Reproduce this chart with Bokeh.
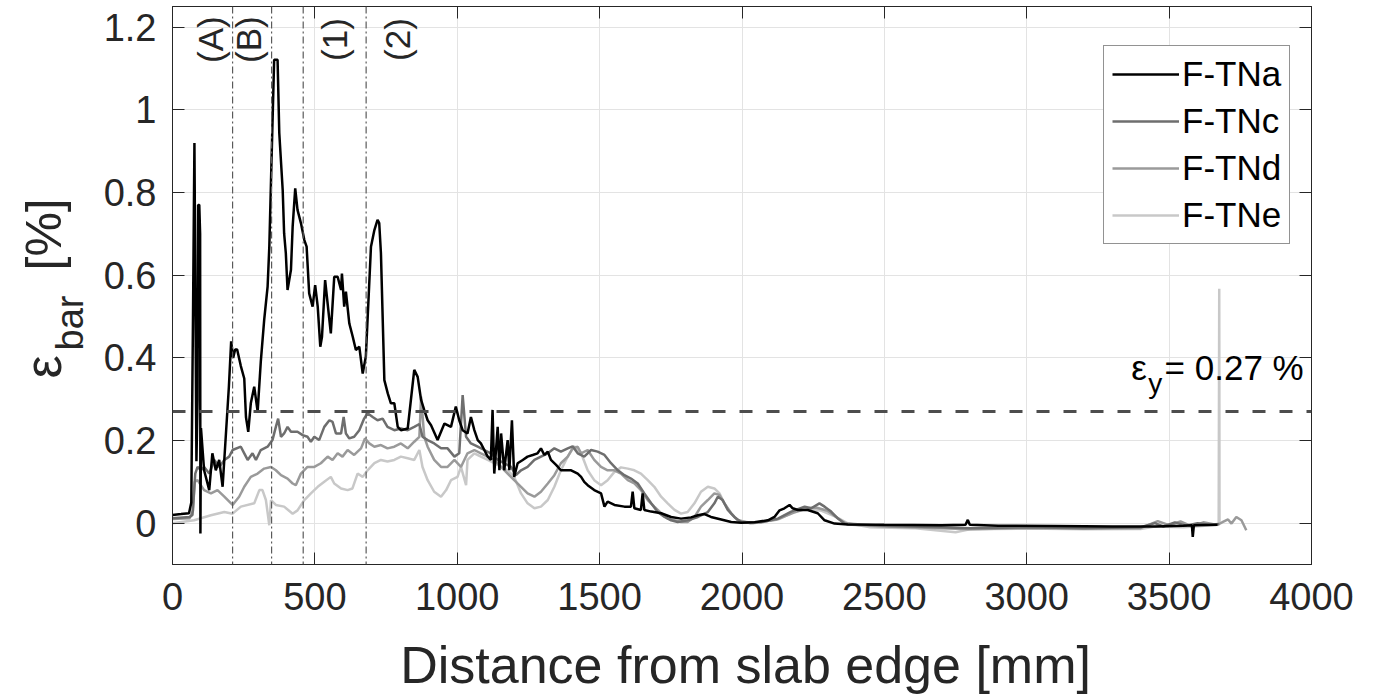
import math
from bokeh.plotting import figure
from bokeh.layouts import row, column
from bokeh.models import (Span, Label, Legend, LegendItem, LinearAxis, FixedTicker,
                          NumeralTickFormatter, CustomJSTickFormatter, Range1d)
from bokeh.embed import file_html
from bokeh.resources import INLINE

# ---------------- data ----------------
x_ticks = [0, 500, 1000, 1500, 2000, 2500, 3000, 3500, 4000]
y_ticks = [0, 0.2, 0.4, 0.6, 0.8, 1.0, 1.2]
series_names = ["F-TNa", "F-TNc", "F-TNd", "F-TNe"]
series_colors = ["#000000", "#6e6e6e", "#9a9a9a", "#c8c8c8"]

eps_y = 0.27
section_lines = [211, 348, 459, 680]
section_labels = ["(A)", "(B)", "(1)", "(2)"]
section_label_x = [135, 268, 568, 790]

ftna = [(0, 0.020), (30, 0.022), (58, 0.024), (66, 0.05), (72, 0.50), (77, 0.92), (80, 0.60),
        (84, 0.15), (88, 0.30), (90, 0.77), (94, 0.77), (97, 0.70), (98, -0.025), (100, 0.23),
        (111, 0.128), (129, 0.080), (140, 0.169), (152, 0.128), (164, 0.153), (176, 0.088),
        (187, 0.209), (198, 0.33), (206, 0.44), (213, 0.40), (220, 0.42), (227, 0.42), (240, 0.38),
        (252, 0.35), (258, 0.257), (266, 0.221), (275, 0.290), (287, 0.330), (299, 0.270),
        (310, 0.390), (322, 0.492), (334, 0.572), (340, 0.669), (346, 0.83), (357, 1.121),
        (369, 1.121), (375, 0.944), (387, 0.806), (392, 0.701), (398, 0.653), (404, 0.564),
        (416, 0.613), (422, 0.718), (431, 0.810), (439, 0.758), (451, 0.726), (463, 0.685),
        (471, 0.669), (480, 0.556), (492, 0.524), (501, 0.576), (510, 0.524), (519, 0.427),
        (525, 0.451), (536, 0.588), (556, 0.459), (568, 0.596), (580, 0.596), (592, 0.564),
        (595, 0.604), (603, 0.524), (609, 0.560), (621, 0.483), (633, 0.451), (644, 0.419),
        (656, 0.427), (668, 0.362), (679, 0.403), (697, 0.669), (709, 0.709), (720, 0.734),
        (726, 0.726), (732, 0.653), (744, 0.346), (756, 0.314), (767, 0.290), (779, 0.290),
        (791, 0.233), (802, 0.225), (826, 0.229), (849, 0.371), (861, 0.354), (873, 0.298),
        (884, 0.274), (896, 0.249), (908, 0.237), (931, 0.201), (955, 0.241), (978, 0.233),
        (995, 0.282), (1007, 0.249), (1019, 0.225), (1036, 0.217), (1048, 0.257), (1060, 0.225),
        (1072, 0.201), (1083, 0.193), (1095, 0.177), (1107, 0.161), (1118, 0.153), (1124, 0.274),
        (1130, 0.120), (1142, 0.233), (1148, 0.128), (1154, 0.217), (1165, 0.128), (1177, 0.201),
        (1183, 0.128), (1192, 0.249), (1200, 0.112), (1212, 0.145), (1230, 0.153), (1247, 0.161),
        (1265, 0.165), (1282, 0.169), (1294, 0.181), (1306, 0.165), (1318, 0.173), (1329, 0.153),
        (1347, 0.141), (1364, 0.128), (1382, 0.128), (1400, 0.128), (1423, 0.120), (1435, 0.112),
        (1446, 0.100), (1458, 0.092), (1481, 0.080), (1505, 0.072), (1517, 0.040), (1528, 0.052),
        (1552, 0.044), (1587, 0.040), (1610, 0.040), (1616, 0.076), (1622, 0.036), (1645, 0.032),
        (1651, 0.072), (1657, 0.032), (1681, 0.028), (1716, 0.024), (1751, 0.015), (1786, 0.011),
        (1821, 0.014), (1845, 0.019), (1868, 0.022), (1891, 0.015), (1927, 0.009), (1962, 0.003),
        (1997, 0.001), (2044, 0.002), (2091, 0.007), (2114, 0.015), (2132, 0.031), (2149, 0.036),
        (2167, 0.044), (2178, 0.036), (2196, 0.032), (2231, 0.032), (2266, 0.024), (2290, 0.007),
        (2325, -0.001), (2372, -0.003), (2500, -0.004), (2700, -0.005), (2785, -0.004),
        (2793, 0.008), (2800, -0.004), (2900, -0.006), (3100, -0.007), (3300, -0.008),
        (3450, -0.008), (3550, -0.006), (3580, -0.005), (3583, -0.033), (3587, -0.005),
        (3670, -0.004)]

ftnc = [(0, 0.012), (60, 0.015), (70, 0.02), (80, 0.12), (88, 0.136), (100, 0.128), (111, 0.136),
        (129, 0.120), (147, 0.153), (164, 0.136), (182, 0.153), (199, 0.161), (211, 0.177),
        (240, 0.185), (252, 0.169), (264, 0.153), (281, 0.169), (293, 0.153), (310, 0.177),
        (334, 0.185), (351, 0.201), (363, 0.233), (371, 0.253), (381, 0.209), (392, 0.217),
        (404, 0.233), (416, 0.221), (439, 0.221), (457, 0.213), (474, 0.209), (486, 0.197),
        (498, 0.209), (515, 0.201), (533, 0.233), (551, 0.249), (562, 0.245), (574, 0.217),
        (592, 0.217), (601, 0.257), (609, 0.217), (621, 0.205), (638, 0.209), (656, 0.225),
        (673, 0.253), (685, 0.266), (703, 0.257), (720, 0.249), (738, 0.253), (755, 0.233),
        (779, 0.225), (802, 0.229), (826, 0.225), (849, 0.233), (867, 0.240), (878, 0.209),
        (896, 0.201), (919, 0.193), (943, 0.181), (966, 0.181), (990, 0.161), (1007, 0.169),
        (1019, 0.310), (1031, 0.209), (1048, 0.193), (1072, 0.185), (1095, 0.177), (1118, 0.169),
        (1142, 0.153), (1165, 0.145), (1189, 0.136), (1206, 0.116), (1224, 0.128), (1247, 0.136),
        (1271, 0.153), (1294, 0.161), (1318, 0.169), (1341, 0.181), (1364, 0.173), (1388, 0.181),
        (1405, 0.186), (1423, 0.169), (1446, 0.161), (1470, 0.177), (1493, 0.173), (1517, 0.165),
        (1540, 0.145), (1564, 0.128), (1587, 0.116), (1610, 0.108), (1634, 0.096), (1657, 0.072),
        (1681, 0.048), (1704, 0.027), (1728, 0.015), (1751, 0.007), (1774, 0.003), (1809, 0.007),
        (1845, 0.015), (1880, 0.027), (1903, 0.048), (1915, 0.064), (1932, 0.056), (1950, 0.032),
        (1973, 0.015), (1997, 0.003), (2067, 0.002), (2126, 0.011), (2173, 0.028), (2220, 0.040),
        (2243, 0.036), (2272, 0.048), (2290, 0.040), (2313, 0.028), (2337, 0.011), (2360, -0.001),
        (2500, -0.006), (2700, -0.010), (2800, -0.012), (3000, -0.010), (3200, -0.012),
        (3400, -0.010), (3450, 0.000), (3480, -0.008), (3520, 0.002), (3560, -0.006),
        (3600, 0.000), (3640, -0.004), (3676, -0.002)]

ftnd = [(0, 0.010), (60, 0.012), (72, 0.03), (78, 0.10), (88, 0.104), (111, 0.080), (135, 0.072),
        (158, 0.080), (182, 0.064), (211, 0.044), (234, 0.064), (252, 0.088), (275, 0.112),
        (299, 0.120), (322, 0.132), (346, 0.136), (363, 0.128), (381, 0.116), (404, 0.108),
        (422, 0.096), (433, 0.092), (451, 0.120), (474, 0.136), (498, 0.136), (521, 0.145),
        (545, 0.161), (562, 0.153), (580, 0.169), (597, 0.161), (615, 0.177), (638, 0.165),
        (662, 0.181), (676, 0.205), (691, 0.193), (709, 0.185), (732, 0.189), (755, 0.181),
        (779, 0.185), (802, 0.193), (826, 0.181), (849, 0.197), (867, 0.209), (873, 0.306),
        (884, 0.209), (896, 0.185), (919, 0.153), (943, 0.136), (966, 0.136), (990, 0.153),
        (1013, 0.136), (1036, 0.169), (1060, 0.177), (1083, 0.169), (1107, 0.161), (1130, 0.153),
        (1154, 0.136), (1177, 0.120), (1200, 0.104), (1224, 0.088), (1247, 0.072), (1271, 0.064),
        (1294, 0.076), (1318, 0.096), (1341, 0.116), (1364, 0.145), (1388, 0.161), (1405, 0.181),
        (1423, 0.185), (1435, 0.169), (1458, 0.177), (1481, 0.153), (1505, 0.136), (1528, 0.128),
        (1552, 0.128), (1575, 0.120), (1599, 0.104), (1622, 0.096), (1645, 0.080), (1669, 0.056),
        (1692, 0.040), (1716, 0.024), (1739, 0.011), (1763, 0.007), (1786, 0.003), (1809, 0.003),
        (1833, 0.015), (1856, 0.040), (1880, 0.056), (1903, 0.072), (1921, 0.068), (1938, 0.048),
        (1962, 0.024), (1985, 0.007), (2030, 0.000), (2120, 0.008), (2180, 0.025), (2230, 0.036),
        (2260, 0.038), (2300, 0.030), (2340, 0.010), (2370, -0.003), (2500, -0.008),
        (2700, -0.012), (2800, -0.015), (3000, -0.012), (3200, -0.013), (3400, -0.012),
        (3460, 0.005), (3500, -0.005), (3540, 0.004), (3580, -0.008), (3620, 0.002),
        (3660, -0.003), (3676, -0.002), (3689, 0.003), (3707, 0.009), (3719, -0.001),
        (3736, 0.015), (3754, 0.007), (3771, -0.017)]

ftne = [(0, 0.000), (76, 0.007), (135, 0.019), (182, 0.027), (211, 0.023), (240, 0.040),
        (287, 0.048), (305, 0.080), (316, 0.080), (328, 0.056), (340, -0.005), (346, 0.056),
        (363, 0.044), (392, 0.040), (422, 0.023), (439, 0.031), (463, 0.056), (486, 0.072),
        (510, 0.088), (533, 0.100), (556, 0.112), (568, 0.096), (592, 0.084), (615, 0.080),
        (632, 0.084), (650, 0.120), (668, 0.112), (685, 0.128), (709, 0.145), (732, 0.153),
        (755, 0.149), (779, 0.153), (802, 0.161), (826, 0.157), (849, 0.153), (867, 0.177),
        (878, 0.136), (896, 0.104), (919, 0.076), (943, 0.064), (961, 0.080), (978, 0.104),
        (1001, 0.112), (1013, 0.136), (1031, 0.092), (1036, 0.153), (1060, 0.169), (1083, 0.161),
        (1107, 0.153), (1130, 0.145), (1154, 0.136), (1177, 0.128), (1200, 0.112), (1224, 0.072),
        (1247, 0.048), (1271, 0.036), (1294, 0.040), (1318, 0.056), (1341, 0.088), (1364, 0.128),
        (1388, 0.161), (1411, 0.186), (1435, 0.169), (1458, 0.128), (1481, 0.104), (1505, 0.092),
        (1528, 0.104), (1552, 0.124), (1575, 0.135), (1599, 0.132), (1622, 0.128), (1645, 0.120),
        (1669, 0.104), (1692, 0.088), (1716, 0.064), (1739, 0.048), (1763, 0.032), (1786, 0.023),
        (1809, 0.027), (1833, 0.048), (1856, 0.076), (1880, 0.088), (1903, 0.084), (1921, 0.072),
        (1938, 0.048), (1962, 0.023), (1985, 0.007), (2040, 0.000), (2130, 0.010), (2190, 0.030),
        (2230, 0.035), (2280, 0.030), (2330, 0.015), (2370, 0.000), (2450, -0.010),
        (2600, -0.012), (2750, -0.022), (2800, -0.015), (3000, -0.013), (3200, -0.015),
        (3400, -0.014), (3450, -0.008), (3550, -0.010), (3650, -0.005), (3674, -0.004),
        (3676, 0.567), (3677, 0.000)]

series_data = [ftna, ftnc, ftnd, ftne]

# ---------------- styling constants ----------------
FONT = "Liberation Sans"
TXT = "#262626"


def text_panel(w, h):
    """A blank figure used only to hold axis-title text outside the main frame."""
    f = figure(width=w, height=h, x_range=Range1d(0, w), y_range=Range1d(0, h),
               output_backend="svg", toolbar_location=None,
               x_axis_location=None, y_axis_location=None, min_border=0)
    f.xgrid.visible = False
    f.ygrid.visible = False
    f.outline_line_color = None
    f.background_fill_color = "white"
    f.border_fill_color = "white"
    return f


# ---------------- main figure ----------------
p = figure(width=1275, height=628, x_range=Range1d(0, 4000), y_range=Range1d(-0.1, 1.25),
           output_backend="svg", toolbar_location=None,
           min_border_left=72, min_border_right=64, min_border_top=6, min_border_bottom=64)
p.background_fill_color = "white"
p.border_fill_color = "white"
p.outline_line_color = TXT
p.outline_line_width = 1

x_bottom = p.below[0]
y_left = p.left[0]
x_top = LinearAxis()
y_right = LinearAxis()
p.add_layout(x_top, "above")
p.add_layout(y_right, "right")

for ax in (x_bottom, x_top):
    ax.ticker = FixedTicker(ticks=x_ticks)
for ax in (y_left, y_right):
    ax.ticker = FixedTicker(ticks=y_ticks)
y_left.formatter = NumeralTickFormatter(format="0.[0]")

for ax in (x_bottom, x_top, y_left, y_right):
    ax.major_tick_in = 12
    ax.major_tick_out = 0
    ax.minor_tick_line_color = None
    ax.axis_line_color = TXT
    ax.major_tick_line_color = TXT
    ax.major_label_text_font = FONT
    ax.major_label_text_color = TXT
    ax.major_label_text_font_size = "38px"

x_bottom.major_label_standoff = 18
y_left.major_label_standoff = 16
for ax in (x_top, y_right):
    ax.formatter = CustomJSTickFormatter(code="return ''")
    ax.major_label_text_font_size = "1px"
    ax.major_label_standoff = 0

p.xgrid.grid_line_color = "#e3e3e3"
p.ygrid.grid_line_color = "#e3e3e3"

# section boundaries and limit strain
for loc in section_lines:
    p.add_layout(Span(location=loc, dimension="height", line_color="#5a5a5a",
                      line_width=1.2, line_dash="7 3 2 3"))
p.add_layout(Span(location=eps_y, dimension="width", line_color="#4d4d4d",
                  line_width=3, line_dash="13 14"))

# data lines (drawn light -> dark so black is on top)
renderers = {}
for name, color, data in reversed(list(zip(series_names, series_colors, series_data))):
    xs = [d[0] for d in data]
    ys = [d[1] for d in data]
    renderers[name] = p.line(xs, ys, line_color=color, line_width=2.5)

legend = Legend(items=[LegendItem(label=n, renderers=[renderers[n]]) for n in series_names],
                location=(931, 320))
legend.label_text_font = FONT
legend.label_text_font_size = "35px"
legend.label_text_color = "#000000"
legend.glyph_width = 67
legend.glyph_height = 40
legend.label_height = 40
legend.label_standoff = 3
legend.spacing = 7
legend.padding = 8
legend.margin = 0
legend.border_line_color = TXT
legend.border_line_width = 1
legend.background_fill_alpha = 1.0
p.add_layout(legend)

# section labels
for lab, lx in zip(section_labels, section_label_x):
    p.add_layout(Label(x=lx, y=1.17, text=lab, angle=math.pi / 2, text_align="center",
                       text_baseline="middle", text_font=FONT, text_font_size="35px",
                       text_color=TXT))

# eps_y annotation
p.add_layout(Label(x=3367, y=0.3755, text="ε", text_font=FONT, text_font_size="35px",
                   text_color="#000000", text_align="left", text_baseline="middle"))
p.add_layout(Label(x=3427, y=0.338, text="y", text_font=FONT, text_font_size="28px",
                   text_color="#000000", text_align="left", text_baseline="middle"))
p.add_layout(Label(x=3484, y=0.3755, text="= 0.27 %", text_font=FONT, text_font_size="35px",
                   text_color="#000000", text_align="left", text_baseline="middle"))

# ---------------- y-axis title panel (left) ----------------
ylab = text_panel(100, 697)
ylab.add_layout(Label(x=42, y=319, text="ε", angle=math.pi / 2, text_font=FONT,
                      text_font_size="52px", text_color=TXT, text_align="left",
                      text_baseline="middle"))
ylab.add_layout(Label(x=69, y=347, text="bar", angle=math.pi / 2, text_font=FONT,
                      text_font_size="38px", text_color=TXT, text_align="left",
                      text_baseline="middle"))
ylab.add_layout(Label(x=43, y=427, text="[%]", angle=math.pi / 2, text_font=FONT,
                      text_font_size="50px", text_color=TXT, text_align="left",
                      text_baseline="middle"))

# ---------------- x-axis title panel (bottom) ----------------
xlab = text_panel(1275, 69)
xlab.add_layout(Label(x=641.5, y=33, text="Distance from slab edge [mm]", text_font=FONT,
                      text_font_size="52px", text_color=TXT, text_align="center",
                      text_baseline="middle"))

layout = row(ylab, column(p, xlab, spacing=0), spacing=0)
open("out.html", "w").write(file_html(layout, INLINE))
